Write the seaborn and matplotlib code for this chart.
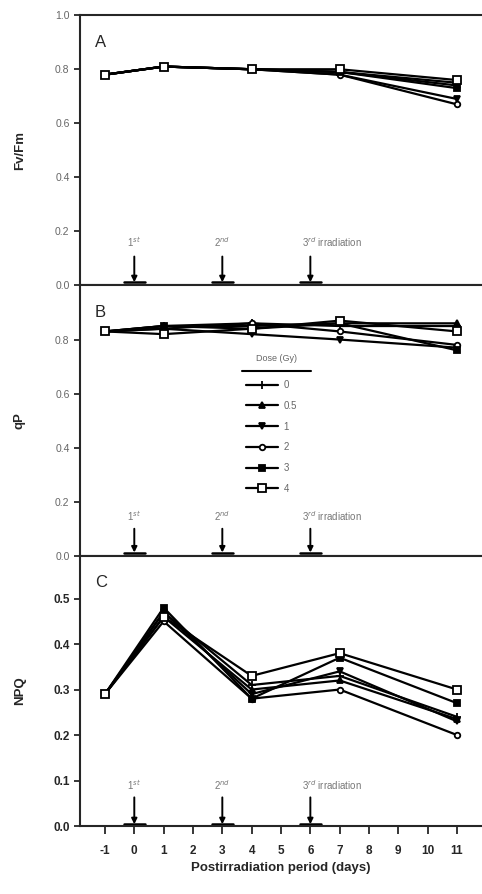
import numpy as np
import pandas as pd
import seaborn as sns
import matplotlib.pyplot as plt

# days with measurements
days = [-1, 1, 4, 7, 11]
doses = ['0', '0.5', '1', '2', '3', '4']

# Fv/Fm per dose
fvfm = {
    '0':   [0.78, 0.81, 0.80, 0.79, 0.75],
    '0.5': [0.78, 0.81, 0.80, 0.79, 0.74],
    '1':   [0.78, 0.81, 0.80, 0.78, 0.69],
    '2':   [0.78, 0.81, 0.80, 0.78, 0.67],
    '3':   [0.78, 0.81, 0.80, 0.79, 0.73],
    '4':   [0.78, 0.81, 0.80, 0.80, 0.76],
}
# qP per dose
qp = {
    '0':   [0.83, 0.85, 0.86, 0.85, 0.85],
    '0.5': [0.83, 0.85, 0.85, 0.86, 0.86],
    '1':   [0.83, 0.84, 0.82, 0.80, 0.77],
    '2':   [0.83, 0.84, 0.86, 0.83, 0.78],
    '3':   [0.83, 0.85, 0.84, 0.86, 0.76],
    '4':   [0.83, 0.82, 0.84, 0.87, 0.83],
}
# NPQ per dose
npq = {
    '0':   [0.29, 0.47, 0.31, 0.33, 0.24],
    '0.5': [0.29, 0.46, 0.30, 0.32, 0.235],
    '1':   [0.29, 0.47, 0.29, 0.34, 0.23],
    '2':   [0.29, 0.45, 0.28, 0.30, 0.20],
    '3':   [0.29, 0.48, 0.28, 0.37, 0.27],
    '4':   [0.29, 0.46, 0.33, 0.38, 0.30],
}

irr_days = [0, 3, 6]
irr_labels = ['1$^{st}$', '2$^{nd}$', '3$^{rd}$ irradiation']
xticks = list(range(-1, 12))

# marker style per dose: (marker, facecolor, size)
mstyle = {
    '0':   ('+', 'black', 6),
    '0.5': ('^', 'black', 4),
    '1':   ('v', 'black', 5),
    '2':   ('o', 'white', 4),
    '3':   ('s', 'black', 5),
    '4':   ('s', 'white', 5.5),
}

sns.set_style('ticks')
plt.rcParams['font.family'] = ['Liberation Sans', 'DejaVu Sans']
plt.rcParams['axes.unicode_minus'] = False

fig, axes = plt.subplots(3, 1, figsize=(4.82, 8.94), dpi=100, sharex=True)
fig.subplots_adjust(left=0.166, right=1.0, top=0.983, bottom=0.076, hspace=0)

panels = [
    ('A', 'Fv/Fm', fvfm, (0, 1.0), np.arange(0, 1.01, 0.2), 0.16, (0.107, 0.012)),
    ('B', 'qP', qp, (0, 1.0), np.arange(0, 0.81, 0.2), 0.146, (0.10, 0.012)),
    ('C', 'NPQ', npq, (0, 0.594), np.arange(0, 0.51, 0.1), 0.091, (0.063, 0.004)),
]

for i, (letter, ylab, data, ylim, yt, ytext, (ya, yb)) in enumerate(panels):
    ax = axes[i]
    for d in doses:
        df = pd.DataFrame({'day': days, 'val': data[d]})
        m, fc, ms = mstyle[d]
        sns.lineplot(data=df, x='day', y='val', ax=ax, color='black', lw=1.6,
                     marker=m, markersize=ms, markerfacecolor=fc,
                     markeredgecolor='black', markeredgewidth=1.3, label=d,
                     legend=False)
    ax.set_ylim(*ylim)
    ax.set_xlim(-1.85, 11.85)
    ax.set_yticks(yt)
    ax.set_ylabel(ylab, fontsize=9.5, fontweight='bold')
    ax.yaxis.set_label_coords(-0.135, 0.5)
    ax.set_xlabel('')
    for s in ['left', 'top', 'bottom']:
        ax.spines[s].set_linewidth(1.5)
    ax.spines['right'].set_visible(False)
    ax.text(-1.35, ylim[1] * 0.9, letter, fontsize=12, va='center')

    # irradiation arrows
    for j, x in enumerate(irr_days):
        ax.annotate('', xy=(x, yb), xytext=(x, ya),
                    arrowprops=dict(arrowstyle='-|>', color='black', lw=1.4,
                                    mutation_scale=8, shrinkA=0, shrinkB=0))
        ax.plot([x - 0.35, x + 0.35], [yb, yb], color='black', lw=1.8)
        if j < 2:
            ax.text(x, ytext, irr_labels[j], ha='center', va='center',
                    fontsize=7, color='#777777')
        else:
            ax.text(x - 0.3, ytext, irr_labels[j], ha='left', va='center',
                    fontsize=7, color='#777777')

    if i < 2:
        ax.tick_params(axis='x', bottom=False, labelbottom=False)
        ax.tick_params(axis='y', labelsize=7.5, labelcolor='#666666', width=1.3, length=4)
    else:
        ax.tick_params(axis='y', labelsize=8.5, width=1.3, length=4)
        ax.tick_params(axis='x', labelsize=8.5, width=1.3, length=5.5, pad=8)
        for lab in ax.get_yticklabels() + ax.get_xticklabels():
            lab.set_fontweight('bold')

axes[2].set_xticks(xticks)
for lab in axes[2].get_xticklabels():
    lab.set_fontweight('bold')
axes[2].set_xlabel('Postirradiation period (days)', fontsize=9.5, fontweight='bold')

# legend with underlined title
axb = axes[1]
axb.text(0.488, 0.73, 'Dose (Gy)', transform=axb.transAxes, ha='center',
         va='center', fontsize=6.5, color='#666666')
axb.plot([0.403, 0.575], [0.683, 0.683], transform=axb.transAxes,
         color='black', lw=1.5)
leg = axb.legend(loc='upper left', bbox_to_anchor=(0.395, 0.675),
                 frameon=False, fontsize=7, handlelength=3.3,
                 labelspacing=1.1, handletextpad=0.6, borderpad=0.2)
for t in leg.get_texts():
    t.set_color('#666666')

fig.savefig('out.png', dpi=100)
